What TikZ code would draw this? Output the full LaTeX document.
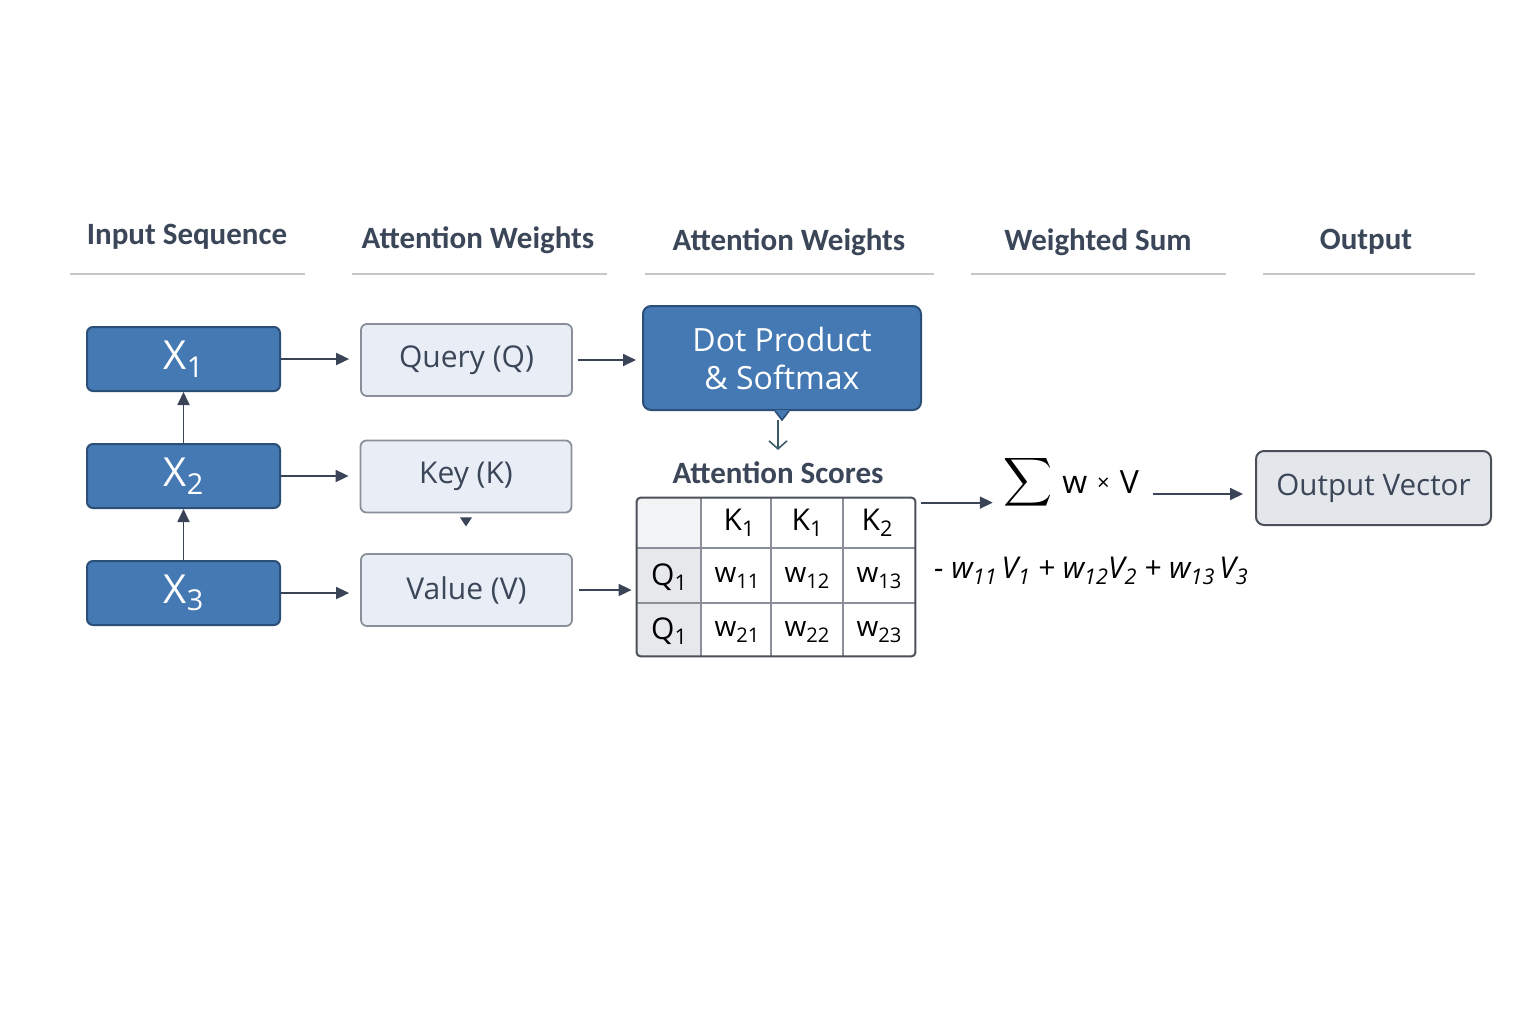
\documentclass[tikz,border=0pt]{standalone}
\usepackage{fontspec}
\setmainfont{Open Sans}
\newfontfamily\hdrfont{Carlito}
\usetikzlibrary{arrows.meta,calc}
\definecolor{hdr}{HTML}{3B4658}
\definecolor{hline}{HTML}{C4C6CA}
\definecolor{blu}{HTML}{4579B3}
\definecolor{bluedge}{HTML}{2C4F78}
\definecolor{lite}{HTML}{E9EEF6}
\definecolor{liteedge}{HTML}{8A9099}
\definecolor{outf}{HTML}{E3E6EA}
\definecolor{outedge}{HTML}{4B5058}
\definecolor{arrc}{HTML}{3A4456}
\definecolor{teal}{HTML}{3D5A6B}
\definecolor{qcell}{HTML}{E6E8EB}
\definecolor{tlcell}{HTML}{F2F3F4}
\newcommand\lowidx[1]{\raisebox{-0.35ex}{\scalebox{0.72}{#1}}}
\newcommand\fsz[1]{\fontsize{#1}{#1}\selectfont}
\begin{document}
\begin{tikzpicture}[x=0.5pt,y=-0.5pt,
  hdrtext/.style={text=hdr,font=\hdrfont\bfseries\fsz{15.5}},
  hrule/.style={draw=hline,line width=1pt},
  xbox/.style={draw=bluedge,fill=blu,line width=1pt,rounded corners=3pt,minimum width=96.5pt,minimum height=32pt,text=white,font=\fsz{20}},
  litebox/.style={draw=liteedge,fill=lite,line width=0.9pt,rounded corners=3pt,minimum width=105.5pt,minimum height=36pt,text=hdr,font=\fsz{15}},
  arr/.style={draw=arrc,line width=0.9pt,-{Triangle[length=6.5pt,width=6pt]}},
  cell/.style={text=black,font=\fsz{14},inner sep=0pt},
  ]
\useasboundingbox[fill=white] (0,0) rectangle (1536,1024);

% headers
\node[hdrtext] (h1) at (187,237) {Input Sequence};
\node[hdrtext] (h2) at (478,240) {Attention Weights};
\node[hdrtext] (h3) at (789,242) {Attention Weights};
\node[hdrtext] (h4) at (1098,242) {Weighted Sum};
\node[hdrtext] (h5) at (1366,242) {Output};
\draw[hrule] (70,274) -- (305,274);
\draw[hrule] (352,274) -- (607,274);
\draw[hrule] (645,274) -- (934,274);
\draw[hrule] (971,274) -- (1226,274);
\draw[hrule] (1263,274) -- (1475,274);

% input boxes
\node[xbox] (x1) at (183.5,359) {X\lowidx{1}};
\node[xbox] (x2) at (183.5,476) {X\lowidx{2}};
\node[xbox] (x3) at (183.5,593) {X\lowidx{3}};
\draw[arr] (x2.north) -- (x1.south);
\draw[arr] (x3.north) -- (x2.south);

% Q K V
\node[litebox] (q) at (466.5,360) {Query (Q)};
\node[litebox] (k) at (466,476.5) {Key (K)};
\node[litebox] (v) at (466.5,590) {Value (V)};
\fill[arrc] ($(k.south)+(-6,4)$) -- ($(k.south)+(6,4)$) -- ($(k.south)+(0,13)$) -- cycle;
\draw[arr,shorten >=5.5pt] (x1.east) -- (q.west |- x1.east);
\draw[arr,shorten >=5.5pt] (x2.east) -- (k.west |- x2.east);
\draw[arr,shorten >=5.5pt] (x3.east) -- (v.west |- x3.east);

% dot product
\node[draw=bluedge,fill=blu,line width=1pt,rounded corners=4pt,minimum width=139pt,minimum height=52pt,text=white,font=\fsz{16},align=center] (dp) at (782,358) {Dot Product\\[3pt]\& Softmax};
\fill[blu] ($(dp.south)+(-7,-1)$) -- ($(dp.south)+(7,-1)$) -- ($(dp.south)+(0,9)$) -- cycle;
\draw[bluedge,line width=0.8pt] ($(dp.south)+(-7,0)$) -- ($(dp.south)+(0,9)$) -- ($(dp.south)+(7,0)$);
\draw[arr,shorten <=2.5pt,shorten >=3pt] (q.east) -- (dp.west |- q.east);

% attention scores
\node[hdrtext] (as) at (778,473) {Attention Scores};
\draw[teal,line width=0.8pt,-{Straight Barb[length=4pt,width=9pt]}] ($(dp.south)+(-4,9)$) -- ($(as.north)+(0,-5)$);

% table
\node[draw=none,minimum width=139pt,minimum height=79pt,inner sep=0pt] (tbl) at (776,577) {};
\fill[tlcell] (637,498) rectangle (701,548);
\fill[qcell] (637,548) rectangle (701,656);
\draw[liteedge,line width=0.7pt] (701,498) -- (701,656) (771,498) -- (771,656) (843,498) -- (843,656)
  (637,548) -- (915,548) (637,603) -- (915,603);
\draw[outedge,line width=1pt,rounded corners=2pt] (tbl.south west) rectangle (tbl.north east);
\node[cell,font=\fsz{15}] (k1) at (739,523) {$\mathrm{K}$\lowidx{1}};
\node[cell,font=\fsz{15}] (k1b) at (807,523) {$\mathrm{K}$\lowidx{1}};
\node[cell,font=\fsz{15}] (k2) at (877,523) {$\mathrm{K}$\lowidx{2}};
\node[cell,font=\fsz{15}] (q1) at (669,577) {Q\lowidx{1}};
\node[cell,font=\fsz{15}] (q2) at (669,631) {Q\lowidx{1}};
\node[cell] (w11) at (737,578) {w\lowidx{11}};
\node[cell] (w12) at (807,578) {w\lowidx{12}};
\node[cell] (w13) at (879,578) {w\lowidx{13}};
\node[cell] (w21) at (737,632) {w\lowidx{21}};
\node[cell] (w22) at (807,632) {w\lowidx{22}};
\node[cell] (w23) at (879,632) {w\lowidx{23}};
\draw[arr,shorten <=3pt,shorten >=2.5pt] (v.east) -- (tbl.west |- v.east);

% weighted sum
\node[text=black,font=\fsz{16},inner sep=1pt] (sum) at (1071,482) {\raisebox{-0.2ex}{\scalebox{1.7}{$\displaystyle\sum$}}\hspace{5pt}w\hspace{5pt}{\fsz{11}\raisebox{0.2ex}{×}}\hspace{5pt}V};
\coordinate (tblout) at ($(tbl.north east)+(6,5)$);
\draw[arr,shorten >=4pt] (tblout) -- (sum.west |- tblout);
\node[text=black,font=\fsz{15}\itshape,inner sep=0pt] (formula) at (1091,571) {- w\lowidx{11}\,V\lowidx{1} + w\lowidx{12}V\lowidx{2} + w\lowidx{13}\,V\lowidx{3}};

% output
\node[draw=outedge,fill=outf,line width=1pt,rounded corners=4pt,minimum width=117.5pt,minimum height=37pt,text=hdr,font=\fsz{14.8}] (out) at (1373.5,488) {Output Vector};
\draw[arr,shorten <=6pt,shorten >=6pt] (sum.east |- 0,494) -- (out.west |- 0,494);
\end{tikzpicture}
\end{document}
